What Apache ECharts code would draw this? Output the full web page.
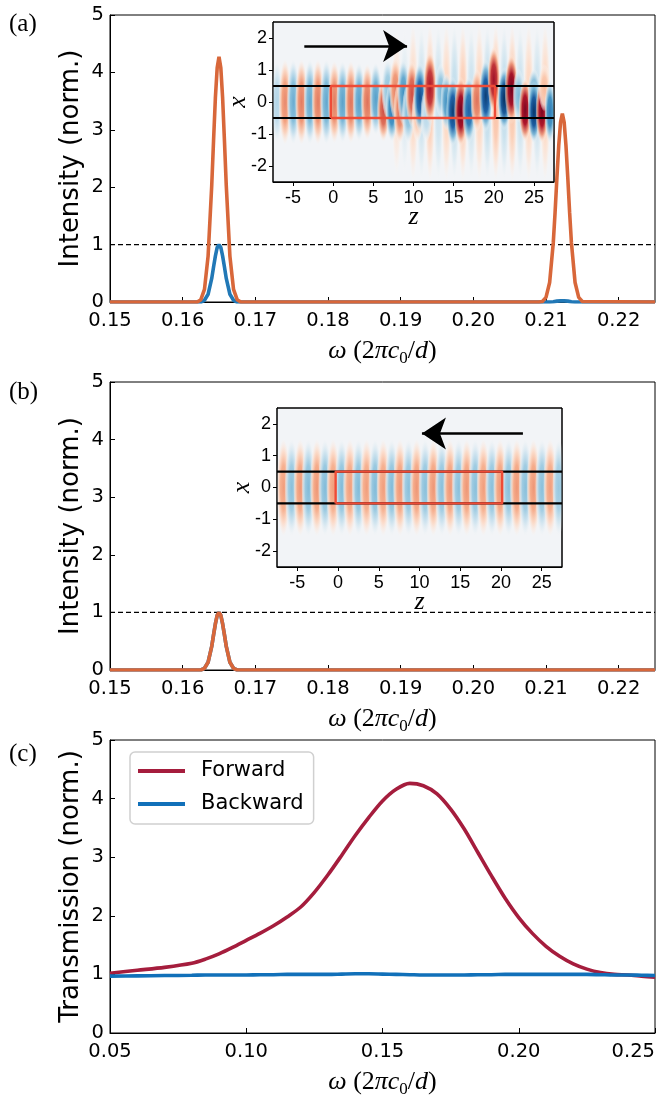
<!DOCTYPE html>
<html>
<head>
<meta charset="utf-8">
<script src="https://cdn.jsdelivr.net/npm/echarts@6/dist/echarts.min.js"></script>
<style>
  html, body { margin: 0; padding: 0; background: #fff; }
  #chart { width: 661px; height: 1096px; }
</style>
</head>
<body>
<div id="chart"></div>
<script>
// ---------- spectra, panels (a) and (b) ----------
const omegaGrid = [0.150, 0.1620, 0.1625, 0.1630, 0.1635, 0.1640, 0.16425, 0.1645, 0.16475, 0.1650,
  0.16525, 0.1655, 0.16575, 0.1660, 0.1665, 0.1670, 0.1675, 0.1680,
  0.2090, 0.2095, 0.2100, 0.2105, 0.2110, 0.21125, 0.2115, 0.21175, 0.2120, 0.21225,
  0.2125, 0.21275, 0.2130, 0.21325, 0.2135, 0.2140, 0.2145, 0.2150, 0.225];

const outputA = [0, 0, 0.04, 0.22, 0.80, 2.03, 2.81, 3.55, 4.08, 4.27,
  4.08, 3.55, 2.81, 2.03, 0.80, 0.22, 0.04, 0,
  0, 0.01, 0.08, 0.34, 1.03, 1.56, 2.16, 2.72, 3.13, 3.28,
  3.13, 2.72, 2.16, 1.56, 1.03, 0.34, 0.08, 0.01, 0];
const inputA = [0, 0, 0, 0.03, 0.135, 0.41, 0.61, 0.80, 0.95, 1.00,
  0.95, 0.80, 0.61, 0.41, 0.135, 0.03, 0, 0,
  0, 0, 0, 0, 0.005, 0.01, 0.015, 0.02, 0.02, 0.02,
  0.02, 0.02, 0.015, 0.01, 0.005, 0, 0, 0, 0];
const outputB = [0, 0, 0, 0.03, 0.135, 0.41, 0.61, 0.80, 0.95, 1.00,
  0.95, 0.80, 0.61, 0.41, 0.135, 0.03, 0, 0,
  0, 0, 0, 0, 0, 0, 0, 0, 0, 0,
  0, 0, 0, 0, 0, 0, 0, 0, 0];
const inputB = [0, 0, 0, 0.03, 0.135, 0.41, 0.61, 0.80, 0.95, 1.00,
  0.95, 0.80, 0.61, 0.41, 0.135, 0.03, 0, 0,
  0, 0, 0, 0, 0, 0, 0, 0, 0, 0,
  0, 0, 0, 0, 0, 0, 0, 0, 0];
const referenceLevel = 1;
const omegaTicksAB = [0.15, 0.16, 0.17, 0.18, 0.19, 0.20, 0.21, 0.22];

// ---------- transmission, panel (c) ----------
const omegaC = [0.050, 0.060, 0.070, 0.080, 0.085, 0.090, 0.095, 0.100, 0.105, 0.110,
  0.115, 0.120, 0.125, 0.130, 0.135, 0.140, 0.145, 0.150, 0.155, 0.160,
  0.165, 0.170, 0.175, 0.180, 0.185, 0.190, 0.195, 0.200, 0.205, 0.210,
  0.215, 0.220, 0.225, 0.230, 0.235, 0.240, 0.245, 0.250];
const transForward = [1.02, 1.07, 1.12, 1.19, 1.26, 1.35, 1.46, 1.58, 1.70, 1.83,
  1.98, 2.15, 2.40, 2.70, 3.03, 3.37, 3.68, 3.96, 4.16, 4.26,
  4.22, 4.08, 3.82, 3.48, 3.08, 2.68, 2.30, 1.97, 1.70, 1.48,
  1.31, 1.18, 1.09, 1.03, 1.00, 0.99, 0.97, 0.95];
const transBackward = [0.97, 0.975, 0.98, 0.985, 0.99, 0.99, 0.99, 0.99, 0.995, 0.995,
  1.00, 1.00, 1.00, 1.00, 1.005, 1.01, 1.01, 1.005, 1.00, 0.995,
  0.99, 0.99, 0.99, 0.99, 0.995, 0.995, 1.00, 1.00, 1.00, 1.00,
  1.00, 1.00, 1.00, 0.995, 0.99, 0.99, 0.985, 0.98];
const omegaTicksC = [0.05, 0.10, 0.15, 0.20, 0.25];

// ---------- field maps (insets) ----------
const zExtent = [-7.5, 27.5];
const xExtent = [-2.5, 2.5];
const zTicks = [-5, 0, 5, 10, 15, 20, 25];
const xTicks = [-2, -1, 0, 1, 2];
const waveguideHalfWidth = 0.5;
const deviceSpan = [-0.3, 20.15];
const arrowForward = [[-3.6, 1.75], [9.2, 1.75]];
const arrowBackward = [[22.7, 1.7], [10.3, 1.7]];

// field lobes: [z, x, amplitude, half-length along z, half-extent along x]
const fieldForward = [
  // radiated field leaking out of the device
  [7.9, 0, 0.14, 0.65, 2.3], [8.9, 0, -0.14, 0.65, 2.3], [9.95, 0, 0.20, 0.65, 2.5],
  [11.0, 0, -0.22, 0.65, 2.5], [12.05, 0, 0.26, 0.65, 2.5], [13.1, 0, -0.22, 0.65, 2.5],
  [14.1, 0, 0.22, 0.65, 2.5], [15.1, 0, -0.26, 0.65, 2.5], [16.15, 0, 0.26, 0.65, 2.5],
  [17.2, 0, -0.22, 0.65, 2.5], [18.2, 0, 0.22, 0.65, 2.5], [19.2, 0, -0.26, 0.65, 2.5],
  [20.25, 0, 0.30, 0.65, 2.5], [21.3, 0, -0.26, 0.65, 2.5], [22.3, 0, 0.28, 0.65, 2.5],
  [23.3, 0, -0.22, 0.65, 2.5], [24.35, 0, 0.22, 0.65, 2.5], [25.4, 0, -0.22, 0.65, 2.5],
  [26.4, 0, 0.22, 0.65, 2.5],
  // guided input mode
  [-7.0, 0, -0.30, 0.75, 1.3], [-6.0, 0, 0.48, 0.8, 1.35], [-4.97, 0, -0.50, 0.8, 1.35],
  [-3.95, 0, 0.52, 0.8, 1.35], [-2.9, 0, -0.52, 0.8, 1.35], [-1.9, 0, 0.52, 0.8, 1.35],
  [-0.85, 0, -0.52, 0.8, 1.35], [0.15, 0, 0.52, 0.8, 1.3], [1.17, 0, -0.54, 0.8, 1.3],
  [2.2, 0, 0.54, 0.8, 1.3], [3.22, 0, -0.55, 0.8, 1.25], [4.25, 0, 0.55, 0.8, 1.2],
  // mode beating inside the device
  [5.3, 0.1, -0.55, 0.8, 1.15],
  [6.25, -0.25, 0.65, 0.8, 1.0], [6.8, 0.4, -0.40, 0.8, 0.95],
  [7.3, -0.25, -0.70, 0.8, 1.0], [7.75, 0.4, 0.50, 0.8, 1.0],
  [8.3, -0.3, 0.55, 0.8, 1.0], [8.75, 0.3, -0.60, 0.8, 1.05],
  [9.35, -0.35, -0.45, 0.8, 0.95], [9.8, 0.25, 0.65, 0.8, 1.05],
  [10.5, -0.4, 0.30, 0.75, 0.85], [10.8, 0.15, -0.88, 0.85, 1.1],
  [11.6, -0.4, -0.28, 0.75, 0.85], [12.05, 0.45, 0.82, 0.85, 1.15],
  [13.4, 0.35, -0.45, 0.75, 0.85], [14.1, 0.0, -0.60, 0.75, 0.9],
  [14.9, -0.3, -0.95, 0.85, 1.1], [15.9, -0.3, 0.98, 0.85, 1.1],
  [16.9, -0.25, -0.82, 0.85, 1.05], [17.9, 0.05, 0.55, 0.8, 1.0],
  [19.0, 0.2, -0.95, 0.85, 1.15], [20.0, 0.7, 0.85, 0.8, 1.05],
  // output guide
  [21.3, 0.1, -1.00, 0.85, 1.0], [22.2, 0.4, 0.98, 0.85, 1.1],
  [23.1, 0.2, -0.45, 0.75, 0.85], [23.9, -0.25, 0.95, 0.8, 1.0],
  [25.0, 0.3, -0.55, 0.8, 0.75], [25.0, -0.3, -0.98, 0.8, 1.0],
  [26.0, -0.3, 0.95, 0.8, 1.0], [26.3, 0.45, 0.32, 0.75, 0.75],
  [27.0, -0.3, -0.70, 0.7, 1.0]
];

const fieldBackward = [
  [-6.7, 0, 0.42, 0.85, 1.55], [-5.7, 0, -0.42, 0.85, 1.55], [-4.65, 0, 0.44, 0.85, 1.55],
  [-3.65, 0, -0.44, 0.85, 1.55], [-2.6, 0, 0.44, 0.85, 1.55], [-1.6, 0, -0.44, 0.85, 1.55],
  [-0.6, 0, 0.42, 0.85, 1.55], [0.45, 0, -0.44, 0.85, 1.55], [1.45, 0, 0.42, 0.85, 1.55],
  [2.5, 0, -0.44, 0.85, 1.55], [3.5, 0, 0.42, 0.85, 1.55], [4.55, 0, -0.44, 0.85, 1.55],
  [5.55, 0, 0.42, 0.85, 1.55], [6.6, 0, -0.44, 0.85, 1.55], [7.6, 0, 0.44, 0.85, 1.55],
  [8.65, 0, -0.42, 0.85, 1.55], [9.65, 0, 0.44, 0.85, 1.55], [10.7, 0, -0.42, 0.85, 1.55],
  [11.7, 0, 0.44, 0.85, 1.55], [12.75, 0, -0.42, 0.85, 1.55], [13.75, 0, 0.44, 0.85, 1.55],
  [14.8, 0, -0.42, 0.85, 1.55], [15.8, 0, 0.44, 0.85, 1.55], [16.85, 0, -0.42, 0.85, 1.55],
  [17.85, 0, 0.42, 0.85, 1.55], [18.9, 0, -0.42, 0.85, 1.55], [19.9, 0, 0.44, 0.85, 1.55],
  [20.95, 0, -0.42, 0.85, 1.55], [21.95, 0, 0.44, 0.85, 1.55], [23.0, 0, -0.42, 0.85, 1.55],
  [24.0, 0, 0.44, 0.85, 1.55], [25.05, 0, -0.42, 0.85, 1.55], [26.05, 0, 0.42, 0.85, 1.55],
  [27.1, 0, -0.38, 0.8, 1.55]
];

// ---------- styling helpers ----------
const INK = '#000';
const ORANGE = '#d8673a';
const BLUE = '#2178b6';
const CRIMSON = '#a51d3d';
const DEEPBLUE = '#1170b9';
const SANS = 'DejaVu Sans';
const SERIF = 'Liberation Serif';
const INSET_SANS = 'Liberation Sans';

// diverging red-blue colour scale (negative = blue, positive = red)
const RDBU_R = ['#053061', '#2166ac', '#4393c3', '#92c5de', '#d1e5f0', '#f7f7f7',
  '#fddbc7', '#f4a582', '#d6604d', '#b2182b', '#67001f'];
const RDBU_RGB = RDBU_R.map(c => [1, 3, 5].map(k => parseInt(c.slice(k, k + 2), 16)));
function divergingColor(v, alpha) {
  v = Math.max(-1, Math.min(1, v));
  const t = (v + 1) * 5;
  const i = Math.min(9, Math.floor(t));
  const f = t - i;
  const a = RDBU_RGB[i], b = RDBU_RGB[i + 1];
  const c = a.map((x, k) => Math.round(x + (b[k] - x) * f));
  return 'rgba(' + c[0] + ',' + c[1] + ',' + c[2] + ',' + alpha + ')';
}

function renderLobe(params, api) {
  const center = api.coord([api.value(0), api.value(1)]);
  const half = api.size([api.value(3), api.value(4)]);
  const amp = api.value(2);
  return {
    type: 'circle',
    shape: { cx: 0, cy: 0, r: 1 },
    x: center[0], y: center[1],
    scaleX: half[0], scaleY: half[1],
    style: {
      fill: new echarts.graphic.RadialGradient(0.5, 0.5, 0.5, [
        { offset: 0, color: divergingColor(amp, 1) },
        { offset: 0.45, color: divergingColor(0.85 * amp, 1) },
        { offset: 0.72, color: divergingColor(0.5 * amp, 0.85) },
        { offset: 0.9, color: divergingColor(0.2 * amp, 0.45) },
        { offset: 1, color: divergingColor(0.05 * amp, 0) }
      ])
    }
  };
}

const omegaName = '{w|ω} {p|(2}{w|π}{w|c}{s|0}{p|/}{w|d}{p|)}';
const omegaNameStyle = {
  color: INK, fontFamily: SERIF, fontSize: 26,
  rich: {
    w: { fontFamily: SERIF, fontStyle: 'italic', fontSize: 26, lineHeight: 32, color: INK },
    p: { fontFamily: SERIF, fontSize: 26, lineHeight: 32, color: INK },
    s: { fontFamily: SERIF, fontSize: 17, lineHeight: 17, verticalAlign: 'bottom', color: INK }
  }
};

function mainX(gridIndex, min, max, ticks, lastLabelInside) {
  const label = { customValues: ticks, formatter: v => v.toFixed(2), color: INK,
    fontFamily: SANS, fontSize: 19.5, margin: 9 };
  if (lastLabelInside) label.alignMaxLabel = 'right';
  return {
    type: 'value', gridIndex, min, max,
    axisLine: { show: true, onZero: false, lineStyle: { color: INK, width: 1 } },
    axisTick: { show: true, inside: true, length: 5, customValues: ticks, lineStyle: { color: INK } },
    axisLabel: label,
    splitLine: { show: false },
    name: omegaName, nameLocation: 'middle', nameGap: 33, nameMoveOverlap: false,
    nameTextStyle: omegaNameStyle
  };
}
function mainY(gridIndex, name) {
  return {
    type: 'value', gridIndex, min: 0, max: 5, interval: 1,
    axisLine: { show: true, onZero: false, lineStyle: { color: INK, width: 1 } },
    axisTick: { show: true, inside: true, length: 5, lineStyle: { color: INK } },
    axisLabel: { color: INK, fontFamily: SANS, fontSize: 19.5, margin: 6 },
    splitLine: { show: false },
    name, nameLocation: 'middle', nameGap: 26, nameRotate: 90, nameMoveOverlap: false,
    nameTextStyle: { color: INK, fontFamily: SANS, fontSize: 26 }
  };
}
function insetX(gridIndex) {
  return {
    type: 'value', gridIndex, min: zExtent[0], max: zExtent[1],
    axisLine: { show: true, onZero: false, lineStyle: { color: INK, width: 1 } },
    axisTick: { show: true, inside: false, length: 4, customValues: zTicks, lineStyle: { color: INK } },
    axisLabel: { customValues: zTicks, color: INK, fontFamily: INSET_SANS, fontSize: 18, margin: 7 },
    splitLine: { show: false },
    name: 'z', nameLocation: 'middle', nameGap: 22, nameMoveOverlap: false,
    nameTextStyle: { color: INK, fontFamily: SERIF, fontStyle: 'italic', fontSize: 26 }
  };
}
function insetY(gridIndex) {
  return {
    type: 'value', gridIndex, min: xExtent[0], max: xExtent[1],
    axisLine: { show: true, onZero: false, lineStyle: { color: INK, width: 1 } },
    axisTick: { show: true, inside: false, length: 4, customValues: xTicks, lineStyle: { color: INK } },
    axisLabel: { customValues: xTicks, color: INK, fontFamily: INSET_SANS, fontSize: 18, margin: 6 },
    splitLine: { show: false },
    name: 'x', nameLocation: 'middle', nameGap: 22, nameRotate: 90, nameMoveOverlap: false,
    nameTextStyle: { color: INK, fontFamily: SERIF, fontStyle: 'italic', fontSize: 26 }
  };
}

const pairs = (xs, ys) => xs.map((x, i) => [x, ys[i]]);

function spectrumLine(name, axis, xs, ys, color) {
  return {
    name, type: 'line', xAxisIndex: axis, yAxisIndex: axis,
    data: pairs(xs, ys), symbol: 'none', smooth: false,
    lineStyle: { color, width: 3.6 }, itemStyle: { color }, z: 3
  };
}
function levelLine(axis, xmin, xmax) {
  return {
    type: 'line', xAxisIndex: axis, yAxisIndex: axis, silent: true,
    data: [[xmin, referenceLevel], [xmax, referenceLevel]], symbol: 'none',
    lineStyle: { color: INK, width: 1.2, type: [5, 3] }, z: 2
  };
}
function insetSeries(axis, field, arrow) {
  const h = waveguideHalfWidth;
  const [d0, d1] = deviceSpan;
  const plain = (data, color, width, z) => ({
    type: 'line', xAxisIndex: axis, yAxisIndex: axis, silent: true, symbol: 'none',
    data, lineStyle: { color, width }, z, clip: false
  });
  return [
    { type: 'custom', xAxisIndex: axis, yAxisIndex: axis, data: field,
      renderItem: renderLobe, clip: true, silent: true, z: 4 },
    plain([[zExtent[0], h], [zExtent[1], h]], INK, 2.2, 5),
    plain([[zExtent[0], -h], [zExtent[1], -h]], INK, 2.2, 5),
    plain([[d0, -h], [d1, -h], [d1, h], [d0, h], [d0, -h]], '#ee4b36', 2.4, 6),
    plain([[zExtent[0], xExtent[0]], [zExtent[1], xExtent[0]], [zExtent[1], xExtent[1]],
      [zExtent[0], xExtent[1]], [zExtent[0], xExtent[0]]], INK, 1, 7),
    { type: 'lines', coordinateSystem: 'cartesian2d', xAxisIndex: axis, yAxisIndex: axis,
      silent: true, symbol: ['none', 'arrow'], symbolSize: [20, 24],
      data: [{ coords: arrow }], lineStyle: { color: INK, width: 2.6, opacity: 1 },
      itemStyle: { color: INK }, z: 7 }
  ];
}

const chart = echarts.init(document.getElementById('chart'), null, { renderer: 'canvas' });
const frame = { show: true, borderColor: INK, borderWidth: 1, outerBoundsMode: 'none', containLabel: false };
chart.setOption({
  animation: false,
  backgroundColor: '#fff',
  grid: [
    Object.assign({ left: 110, top: 15, width: 545, height: 287 }, frame),
    Object.assign({ left: 273, top: 22, width: 281, height: 160, backgroundColor: '#f2f4f7', z: 3 }, frame),
    Object.assign({ left: 110, top: 382, width: 545, height: 288 }, frame),
    Object.assign({ left: 277, top: 408, width: 285, height: 159, backgroundColor: '#f2f4f7', z: 3 }, frame),
    Object.assign({ left: 110, top: 740, width: 545, height: 293 }, frame)
  ],
  xAxis: [
    mainX(0, 0.15, 0.225, omegaTicksAB, false),
    insetX(1),
    mainX(2, 0.15, 0.225, omegaTicksAB, false),
    insetX(3),
    mainX(4, 0.05, 0.25, omegaTicksC, true)
  ],
  yAxis: [
    mainY(0, 'Intensity (norm.)'),
    insetY(1),
    mainY(2, 'Intensity (norm.)'),
    insetY(3),
    mainY(4, 'Transmission (norm.)')
  ],
  legend: {
    data: ['Forward', 'Backward'],
    orient: 'vertical', left: 130, top: 752,
    icon: 'rect', itemWidth: 47, itemHeight: 4, itemGap: 11,
    backgroundColor: '#fff', borderColor: '#d0d0d0', borderWidth: 1.5, borderRadius: 5,
    padding: [8, 10, 9, 8],
    formatter: name => '{t|' + name + '}',
    textStyle: { color: INK, fontFamily: SANS, fontSize: 21, lineHeight: 22,
      rich: { t: { fontFamily: SANS, fontSize: 21, lineHeight: 22, padding: [0, 0, 0, 11], color: INK } } }
  },
  graphic: [
    { type: 'text', left: 9, top: 12, style: { text: '(a)', fontFamily: SERIF, fontSize: 25, fill: INK } },
    { type: 'text', left: 9, top: 380, style: { text: '(b)', fontFamily: SERIF, fontSize: 25, fill: INK } },
    { type: 'text', left: 9, top: 742, style: { text: '(c)', fontFamily: SERIF, fontSize: 25, fill: INK } }
  ],
  series: [
    levelLine(0, 0.15, 0.225),
    spectrumLine('input (a)', 0, omegaGrid, inputA, BLUE),
    spectrumLine('output (a)', 0, omegaGrid, outputA, ORANGE),
    ...insetSeries(1, fieldForward, arrowForward),
    levelLine(2, 0.15, 0.225),
    spectrumLine('input (b)', 2, omegaGrid, inputB, BLUE),
    spectrumLine('output (b)', 2, omegaGrid, outputB, ORANGE),
    ...insetSeries(3, fieldBackward, arrowBackward),
    { name: 'Forward', type: 'line', xAxisIndex: 4, yAxisIndex: 4, data: pairs(omegaC, transForward),
      symbol: 'none', smooth: 0.3, lineStyle: { color: CRIMSON, width: 3.6 }, itemStyle: { color: CRIMSON }, z: 3 },
    { name: 'Backward', type: 'line', xAxisIndex: 4, yAxisIndex: 4, data: pairs(omegaC, transBackward),
      symbol: 'none', smooth: 0.3, lineStyle: { color: DEEPBLUE, width: 3.6 }, itemStyle: { color: DEEPBLUE }, z: 3 }
  ]
});
</script>
</body>
</html>
